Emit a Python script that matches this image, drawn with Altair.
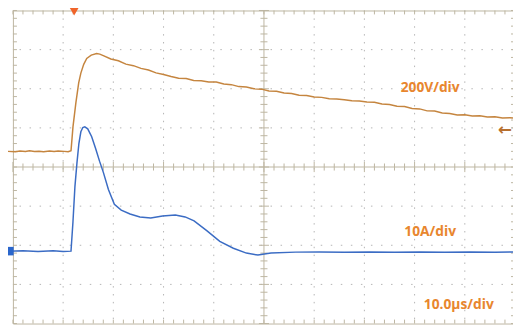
import altair as alt
import pandas as pd

# ---------------- data ----------------
# Voltage trace (V, relative to screen centre), time in microseconds
v_time = [-1.0, 0.5, 1.4, 2.5, 3.3, 4.3, 5.2, 6.1, 7.3, 8.2, 9.0, 10.2, 11.0, 11.57,
          11.96, 12.55, 13.1, 13.53, 14.1, 14.7, 15.6, 16.67, 17.3,
          18, 19.5, 21, 22.5, 24, 25.5, 27, 28.5, 30, 31.5, 33, 34.5, 36, 37.5, 39, 40.5,
          42, 43.5, 45, 46.5, 48, 49.5, 51, 52.5, 54, 55.5, 57, 58.5, 60, 61.5, 63, 64.5,
          66, 67.5, 69, 70.5, 72, 73.5, 75, 76.5, 78, 79.5, 81, 82.5, 84, 85.5, 87, 88.5,
          90, 91.5, 93, 94.5, 96, 97.5, 99, 99.6]
v_volts = [80, 78, 82, 79, 83, 79, 81, 78, 82, 79, 82, 80, 78, 83,
           205, 330, 430, 480, 525, 555, 572, 580, 577,
           569, 552, 543, 526, 518, 504, 496, 481, 473, 463, 454, 452, 442, 441, 435, 434,
           424, 421, 411, 409, 400, 398, 389, 387, 378, 376, 367, 365, 358, 356, 349, 348,
           344, 339, 337, 332, 331, 322, 320, 311, 309, 299, 297, 287, 286, 276, 274, 266,
           267, 261, 262, 256, 257, 251, 252, 250]

# Current trace (A, relative to screen centre)
i_time = [-1.0, 2.0, 5.0, 8.0, 10.0, 11.57, 11.96, 12.35, 12.75, 13.14, 13.53, 13.92,
          14.31, 14.9, 15.69, 16.47, 17.25, 18.04, 19.02, 20.2, 21.57, 23.33, 25.29,
          27.45, 29.8, 32.35, 34.3, 36.08, 38.6, 41.2, 43.9, 46.5, 48.8, 51.4, 56.3,
          61, 66, 71, 76, 81, 86, 91, 96, 99.6]
i_amps = [-21.5, -21.4, -21.6, -21.4, -21.6, -21.5, -14.0, -5.0, 1.0, 6.0, 9.0, 10.1,
          10.25, 9.75, 7.75, 4.75, 1.5, -1.5, -5.75, -9.5, -11.0, -12.0, -12.75,
          -13.0, -12.5, -12.25, -12.75, -13.75, -16.25, -19.0, -20.75, -22.0, -22.5, -22.0, -21.75,
          -21.7, -21.8, -21.7, -21.8, -21.7, -21.8, -21.7, -21.8, -21.7]

# Scope settings / annotations
scale_labels = ["200V/div", "10A/div", "10.0\u03bcs/div"]
label_t = [83.1, 83.1, 88.8]
label_div = [2.03, -1.65, -3.53]

V_PER_DIV = 200
A_PER_DIV = 10
US_PER_DIV = 10

volt_df = pd.DataFrame({"t": v_time, "d": [v / V_PER_DIV for v in v_volts]})
curr_df = pd.DataFrame({"t": i_time, "d": [a / A_PER_DIV for a in i_amps]})
label_df = pd.DataFrame({"t": label_t, "d": label_div, "txt": scale_labels})

# ---------------- layout ----------------
W, H = 508, 318
TMAX = 99.6
xs = alt.Scale(domain=[0, TMAX], nice=False, zero=False)
ys = alt.Scale(domain=[-4, 4], nice=False, zero=False)
FRAME = "#bdb6a2"
GRID = "#b4b4b4"
ORANGE_TXT = "#e8862e"

X = lambda f: alt.X(f, scale=xs, axis=None)
Y = lambda f: alt.Y(f, scale=ys, axis=None)

# dotted division grid
vgrid_df = pd.DataFrame({"x": [k * US_PER_DIV for k in range(1, 10) if k != 5]})
hgrid_df = pd.DataFrame({"y": [k for k in range(-3, 4) if k != 0]})
vgrid = alt.Chart(vgrid_df).mark_rule(color=GRID, strokeWidth=1, strokeDash=[1.5, 6.5]).encode(
    x=X("x:Q"))
hgrid = alt.Chart(hgrid_df).mark_rule(color=GRID, strokeWidth=1, strokeDash=[1.5, 8.7]).encode(
    y=Y("y:Q"))

# tick marks along border and centre cross
ticks = []
for k in range(0, 51):
    x = k * 2.0
    ticks.append({"x": x, "x2": x, "y": 4.0, "y2": 3.9})
    ticks.append({"x": x, "x2": x, "y": -4.0, "y2": -3.9})
    half = 0.13 if k % 5 == 0 else 0.09
    ticks.append({"x": x, "x2": x, "y": -half, "y2": half})
for k in range(-20, 21):
    y = k * 0.2
    ticks.append({"x": 0.0, "x2": 0.8, "y": y, "y2": y})
    ticks.append({"x": 100.0, "x2": 99.2, "y": y, "y2": y})
    half = 1.0 if k % 5 == 0 else 0.7
    ticks.append({"x": 50 - half, "x2": 50 + half, "y": y, "y2": y})
ticks_df = pd.DataFrame(ticks)

cross_df = pd.DataFrame({"x": [50], "y": [0]})
vline = alt.Chart(cross_df).mark_rule(color=FRAME, strokeWidth=1).encode(x=X("x:Q"))
hline = alt.Chart(cross_df).mark_rule(color=FRAME, strokeWidth=1).encode(y=Y("y:Q"))

tick_layer = alt.Chart(ticks_df).mark_rule(color=FRAME, strokeWidth=1).encode(
    x=X("x:Q"), x2="x2:Q", y=Y("y:Q"), y2="y2:Q",
)

volt_line = alt.Chart(volt_df).mark_line(color="#c5853f", strokeWidth=1.5).encode(
    x=X("t:Q"), y=Y("d:Q"), order="t:Q",
)
curr_line = alt.Chart(curr_df).mark_line(color="#3b6cc4", strokeWidth=1.5).encode(
    x=X("t:Q"), y=Y("d:Q"), order="t:Q",
)

labels = alt.Chart(label_df).mark_text(
    color=ORANGE_TXT, font="Open Sans", fontWeight="bold", fontSize=14,
    align="center", baseline="middle",
).encode(x=X("t:Q"), y=Y("d:Q"), text="txt:N")

marker_df = pd.DataFrame({"t": [12.2], "d": [3.98]})
trigger = alt.Chart(marker_df).mark_point(
    shape="triangle-down", filled=True, size=100, color="#f0642a", opacity=1,
).encode(x=X("t:Q"), y=Y("d:Q"))

gnd_i_df = pd.DataFrame({"t": [-0.7], "d": [-2.15]})
gnd_i = alt.Chart(gnd_i_df).mark_point(
    shape="square", filled=True, size=75, color="#2a66cc", opacity=1,
).encode(x=X("t:Q"), y=Y("d:Q"))

gnd_v_df = pd.DataFrame({"t": [98.0], "d": [0.95], "txt": ["\u2190"]})
gnd_v = alt.Chart(gnd_v_df).mark_text(
    color="#b8702e", font="DejaVu Sans", fontWeight="bold", fontSize=17,
    align="center", baseline="middle",
).encode(x=X("t:Q"), y=Y("d:Q"), text="txt:N")

chart = alt.layer(
    vgrid, hgrid, vline, hline, tick_layer, volt_line, curr_line, labels, trigger, gnd_i, gnd_v,
).properties(
    width=W, height=H,
    autosize=alt.AutoSizeParams(type="none"),
    padding={"left": 5, "top": 0, "right": 0, "bottom": 2},
    background="white",
).configure_view(stroke=FRAME, strokeWidth=1)

chart.save("out.html", embed_options={"renderer": "svg", "actions": False})
